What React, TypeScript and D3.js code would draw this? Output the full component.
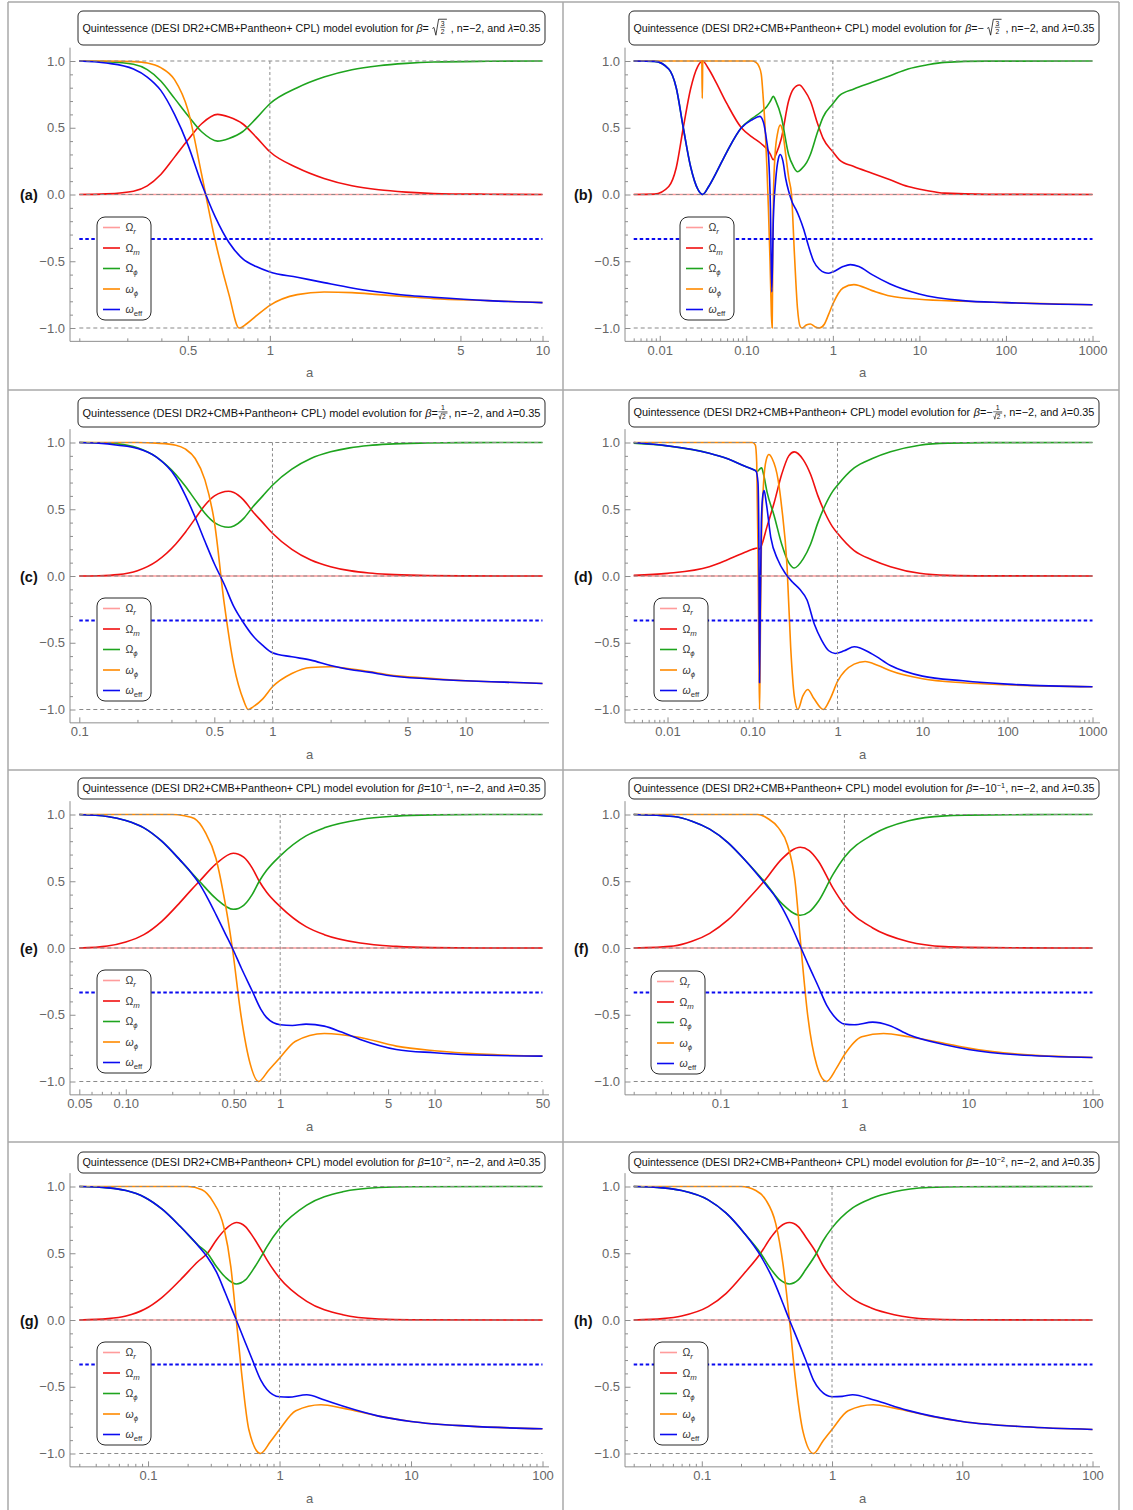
import React, { useEffect, useRef } from 'react';
import * as d3 from 'd3';

type Pt = [number, number];

// values: [a, value]

// (a) beta = sqrt(3/2)
const omR_a: Pt[] = [[0.2, 0], [10, 0]];
const omM_a: Pt[] = [[0.2, 0], [0.251, 0.005], [0.316, 0.025], [0.355, 0.065], [0.398, 0.15], [0.447, 0.28], [0.501, 0.41], [0.562, 0.53], [0.643, 0.6], [0.708, 0.58], [0.794, 0.53], [0.891, 0.43], [1, 0.32], [1.26, 0.2], [1.58, 0.12], [2, 0.065], [2.51, 0.035], [3.16, 0.018], [3.98, 0.008], [6.31, 0.002], [10, 0]];
const omPhi_a: Pt[] = [[0.2, 1], [0.251, 0.995], [0.316, 0.975], [0.355, 0.935], [0.398, 0.85], [0.447, 0.72], [0.501, 0.59], [0.562, 0.47], [0.643, 0.4], [0.708, 0.42], [0.794, 0.47], [0.891, 0.57], [1, 0.68], [1.26, 0.8], [1.58, 0.88], [2, 0.935], [2.51, 0.965], [3.16, 0.982], [3.98, 0.992], [6.31, 0.998], [10, 1]];
const wPhi_a: Pt[] = [[0.2, 1], [0.251, 1], [0.316, 0.995], [0.355, 0.985], [0.398, 0.95], [0.447, 0.86], [0.501, 0.63], [0.562, 0.15], [0.631, -0.35], [0.708, -0.75], [0.771, -1], [0.82, -0.97], [0.891, -0.91], [1, -0.83], [1.26, -0.75], [1.58, -0.73], [2, -0.735], [2.51, -0.75], [3.16, -0.765], [3.98, -0.78], [6.31, -0.795], [10, -0.81]];
const wEff_a: Pt[] = [[0.2, 1], [0.251, 0.985], [0.316, 0.94], [0.355, 0.88], [0.398, 0.78], [0.447, 0.6], [0.501, 0.37], [0.562, 0.08], [0.631, -0.17], [0.708, -0.36], [0.794, -0.48], [0.891, -0.54], [1, -0.58], [1.26, -0.62], [1.58, -0.66], [2, -0.7], [2.51, -0.73], [3.16, -0.755], [3.98, -0.77], [6.31, -0.795], [10, -0.81]];

// (b) beta = -sqrt(3/2)
const omR_b: Pt[] = [[0.005, 0], [1000, 0]];
const omM_b: Pt[] = [[0.005, 0], [0.0087, 0.003], [0.0127, 0.06], [0.0155, 0.2], [0.0187, 0.5], [0.0227, 0.79], [0.0275, 0.96], [0.0313, 1], [0.0368, 0.94], [0.0447, 0.84], [0.0597, 0.68], [0.0877, 0.5], [0.117, 0.43], [0.149, 0.38], [0.173, 0.34], [0.19, 0.3], [0.205, 0.26], [0.22, 0.3], [0.254, 0.42], [0.308, 0.7], [0.35, 0.79], [0.411, 0.82], [0.47, 0.78], [0.55, 0.7], [0.667, 0.53], [0.771, 0.42], [1, 0.32], [1.19, 0.26], [1.75, 0.21], [2.84, 0.16], [4.59, 0.11], [7.4, 0.06], [12.1, 0.03], [19.5, 0.01], [60, 0.001], [1000, 0]];
const omPhi_b: Pt[] = [[0.005, 1], [0.0087, 0.997], [0.0127, 0.94], [0.0155, 0.8], [0.0187, 0.5], [0.0227, 0.21], [0.0275, 0.04], [0.0313, 0], [0.0368, 0.06], [0.0447, 0.16], [0.0597, 0.32], [0.0877, 0.5], [0.117, 0.57], [0.149, 0.62], [0.173, 0.66], [0.19, 0.7], [0.205, 0.735], [0.22, 0.7], [0.254, 0.58], [0.308, 0.3], [0.35, 0.21], [0.392, 0.17], [0.432, 0.19], [0.499, 0.24], [0.55, 0.3], [0.667, 0.47], [0.771, 0.58], [1, 0.68], [1.19, 0.74], [1.75, 0.79], [2.84, 0.84], [4.59, 0.89], [7.4, 0.94], [12.1, 0.97], [19.5, 0.99], [60, 0.999], [1000, 1]];
const wPhi_b: Pt[] = [[0.005, 1], [0.0306, 1], [0.031, 0.72], [0.0314, 1], [0.117, 1], [0.129, 0.99], [0.14, 0.96], [0.149, 0.9], [0.157, 0.72], [0.165, 0.5], [0.173, 0.2], [0.18, -0.1], [0.188, -0.5], [0.195, -0.9], [0.199, -1], [0.202, -0.5], [0.206, 0], [0.215, 0.3], [0.23, 0.46], [0.247, 0.52], [0.262, 0.48], [0.285, 0.3], [0.31, 0.12], [0.333, 0], [0.36, -0.45], [0.39, -0.85], [0.42, -0.99], [0.44, -1], [0.5, -0.975], [0.55, -0.97], [0.62, -0.99], [0.7, -1], [0.8, -0.97], [0.891, -0.9], [1, -0.82], [1.31, -0.7], [1.75, -0.675], [2.84, -0.72], [4.59, -0.76], [9.95, -0.785], [31.7, -0.8], [100, -0.81], [1000, -0.826]];
const wEff_b: Pt[] = [[0.005, 1], [0.0087, 0.997], [0.0127, 0.94], [0.0155, 0.8], [0.0187, 0.5], [0.0227, 0.21], [0.0275, 0.04], [0.0313, 0], [0.0368, 0.06], [0.0447, 0.16], [0.0597, 0.32], [0.0877, 0.5], [0.117, 0.56], [0.143, 0.585], [0.158, 0.54], [0.172, 0.4], [0.181, 0.28], [0.19, -0.1], [0.197, -0.73], [0.205, -0.2], [0.218, 0.1], [0.235, 0.27], [0.247, 0.3], [0.265, 0.25], [0.285, 0.12], [0.31, 0.02], [0.34, -0.06], [0.373, -0.11], [0.41, -0.17], [0.46, -0.26], [0.52, -0.38], [0.6, -0.5], [0.7, -0.56], [0.8, -0.585], [0.89, -0.59], [1, -0.58], [1.31, -0.54], [1.59, -0.525], [2, -0.54], [2.84, -0.6], [4.59, -0.67], [9.95, -0.745], [31.7, -0.795], [100, -0.81], [1000, -0.826]];

// (c) beta = 1/sqrt(2)
const omR_c: Pt[] = [[0.1, 0], [25, 0]];
const omM_c: Pt[] = [[0.1, 0], [0.126, 0.002], [0.158, 0.01], [0.2, 0.04], [0.251, 0.11], [0.316, 0.24], [0.355, 0.33], [0.398, 0.43], [0.447, 0.53], [0.501, 0.6], [0.592, 0.635], [0.631, 0.625], [0.708, 0.57], [0.794, 0.48], [0.891, 0.4], [1, 0.32], [1.26, 0.2], [1.58, 0.12], [2, 0.07], [2.51, 0.04], [3.16, 0.022], [3.98, 0.012], [6.31, 0.004], [10, 0.001], [15.8, 0], [25, 0]];
const omPhi_c: Pt[] = [[0.1, 1], [0.126, 0.998], [0.158, 0.99], [0.2, 0.96], [0.251, 0.89], [0.316, 0.76], [0.355, 0.67], [0.398, 0.57], [0.447, 0.47], [0.501, 0.4], [0.592, 0.365], [0.631, 0.375], [0.708, 0.43], [0.794, 0.52], [0.891, 0.6], [1, 0.68], [1.26, 0.8], [1.58, 0.88], [2, 0.93], [2.51, 0.96], [3.16, 0.978], [3.98, 0.988], [6.31, 0.996], [10, 0.999], [15.8, 1], [25, 1]];
const wPhi_c: Pt[] = [[0.1, 1], [0.2, 1], [0.251, 0.995], [0.316, 0.98], [0.355, 0.95], [0.398, 0.88], [0.447, 0.72], [0.501, 0.4], [0.562, -0.2], [0.631, -0.67], [0.708, -0.93], [0.75, -1], [0.794, -0.98], [0.891, -0.92], [1, -0.83], [1.26, -0.73], [1.58, -0.685], [2, -0.68], [2.51, -0.695], [3.16, -0.715], [3.98, -0.74], [6.31, -0.765], [10, -0.785], [15.8, -0.795], [25, -0.805]];
const wEff_c: Pt[] = [[0.1, 1], [0.126, 0.995], [0.158, 0.98], [0.2, 0.955], [0.251, 0.89], [0.316, 0.74], [0.355, 0.6], [0.398, 0.44], [0.447, 0.26], [0.501, 0.09], [0.562, -0.06], [0.631, -0.23], [0.708, -0.35], [0.794, -0.45], [0.891, -0.52], [1, -0.575], [1.26, -0.605], [1.58, -0.63], [2, -0.67], [2.51, -0.7], [3.16, -0.72], [3.98, -0.745], [6.31, -0.77], [10, -0.785], [15.8, -0.795], [25, -0.805]];

// (d) beta = -1/sqrt(2)
const omR_d: Pt[] = [[0.004, 0], [1000, 0]];
const omM_d: Pt[] = [[0.004, 0.005], [0.01, 0.02], [0.031, 0.07], [0.05, 0.12], [0.083, 0.18], [0.1, 0.2], [0.115, 0.21], [0.121, 0.2], [0.126, 0.22], [0.148, 0.37], [0.18, 0.55], [0.22, 0.76], [0.267, 0.9], [0.31, 0.93], [0.396, 0.87], [0.483, 0.76], [0.588, 0.6], [0.716, 0.47], [0.87, 0.37], [1, 0.32], [1.57, 0.19], [2.57, 0.12], [4.2, 0.07], [9.25, 0.02], [20, 0.005], [60, 0.001], [1000, 0]];
const omPhi_d: Pt[] = [[0.004, 0.995], [0.01, 0.975], [0.031, 0.92], [0.05, 0.88], [0.083, 0.82], [0.1, 0.8], [0.115, 0.785], [0.121, 0.8], [0.128, 0.81], [0.135, 0.76], [0.148, 0.63], [0.18, 0.45], [0.22, 0.24], [0.267, 0.1], [0.31, 0.06], [0.396, 0.13], [0.483, 0.24], [0.588, 0.4], [0.716, 0.53], [0.87, 0.63], [1, 0.68], [1.57, 0.81], [2.57, 0.88], [4.2, 0.93], [9.25, 0.98], [20, 0.995], [60, 0.999], [1000, 1]];
const wPhi_d: Pt[] = [[0.004, 1], [0.1, 1], [0.108, 0.98], [0.112, 0.85], [0.116, 0.2], [0.119, -0.6], [0.121, -1], [0.123, -0.6], [0.127, 0.2], [0.135, 0.7], [0.145, 0.87], [0.156, 0.91], [0.17, 0.88], [0.2, 0.72], [0.22, 0.52], [0.255, 0.07], [0.281, -0.53], [0.31, -0.9], [0.342, -1], [0.39, -0.9], [0.446, -0.85], [0.53, -0.92], [0.68, -1], [0.82, -0.92], [1, -0.79], [1.57, -0.66], [2.11, -0.64], [3, -0.67], [4.2, -0.71], [10, -0.77], [30, -0.8], [100, -0.815], [1000, -0.83]];
const wEff_d: Pt[] = [[0.004, 1], [0.01, 0.975], [0.031, 0.92], [0.05, 0.88], [0.083, 0.82], [0.1, 0.8], [0.11, 0.785], [0.116, 0.7], [0.119, 0.2], [0.121, -0.8], [0.123, -0.3], [0.127, 0.4], [0.132, 0.6], [0.137, 0.64], [0.145, 0.55], [0.164, 0.29], [0.199, 0.12], [0.243, 0.02], [0.295, -0.045], [0.36, -0.1], [0.438, -0.18], [0.533, -0.36], [0.649, -0.48], [0.79, -0.56], [0.94, -0.58], [1.2, -0.56], [1.57, -0.53], [2.57, -0.585], [4.2, -0.67], [10, -0.75], [30, -0.785], [100, -0.81], [1000, -0.83]];

// (e) beta = 10^-1
const omR_e: Pt[] = [[0.05, 0], [50, 0]];
const omM_e: Pt[] = [[0.05, 0], [0.076, 0.015], [0.1, 0.045], [0.131, 0.1], [0.171, 0.2], [0.224, 0.34], [0.263, 0.43], [0.3, 0.5], [0.384, 0.63], [0.497, 0.71], [0.58, 0.68], [0.658, 0.6], [0.732, 0.5], [0.815, 0.42], [1, 0.31], [1.47, 0.16], [1.93, 0.1], [3.3, 0.037], [5.65, 0.012], [9.7, 0.003], [20, 0.0005], [50, 0]];
const omPhi_e: Pt[] = [[0.05, 1], [0.076, 0.985], [0.1, 0.955], [0.131, 0.9], [0.171, 0.8], [0.224, 0.66], [0.263, 0.57], [0.3, 0.5], [0.384, 0.37], [0.497, 0.29], [0.58, 0.32], [0.658, 0.4], [0.732, 0.5], [0.815, 0.58], [1, 0.69], [1.47, 0.84], [1.93, 0.9], [3.3, 0.963], [5.65, 0.988], [9.7, 0.997], [20, 1], [50, 1]];
const wPhi_e: Pt[] = [[0.05, 1], [0.2, 1], [0.24, 0.99], [0.278, 0.97], [0.326, 0.87], [0.384, 0.67], [0.427, 0.42], [0.49, 0], [0.56, -0.52], [0.64, -0.87], [0.724, -1], [0.837, -0.92], [1, -0.82], [1.25, -0.7], [1.93, -0.64], [3.3, -0.67], [5.65, -0.735], [10, -0.77], [20, -0.795], [50, -0.81]];
const wEff_e: Pt[] = [[0.05, 1], [0.076, 0.985], [0.1, 0.955], [0.131, 0.9], [0.171, 0.8], [0.224, 0.66], [0.263, 0.57], [0.3, 0.48], [0.34, 0.37], [0.384, 0.25], [0.44, 0.11], [0.49, 0], [0.56, -0.15], [0.658, -0.32], [0.75, -0.46], [0.815, -0.52], [1, -0.575], [1.2, -0.58], [1.47, -0.57], [1.93, -0.585], [2.5, -0.63], [3.3, -0.685], [5.65, -0.76], [10, -0.785], [16.6, -0.8], [50, -0.81]];

// (f) beta = -10^-1
const omR_f: Pt[] = [[0.02, 0], [100, 0]];
const omM_f: Pt[] = [[0.02, 0], [0.042, 0.015], [0.059, 0.05], [0.082, 0.11], [0.115, 0.21], [0.161, 0.35], [0.225, 0.5], [0.315, 0.67], [0.441, 0.755], [0.52, 0.73], [0.617, 0.65], [0.807, 0.45], [1, 0.32], [1.69, 0.15], [3.3, 0.047], [6.46, 0.01], [10, 0.005], [30, 0.001], [100, 0]];
const omPhi_f: Pt[] = [[0.02, 1], [0.042, 0.985], [0.059, 0.95], [0.082, 0.89], [0.115, 0.79], [0.161, 0.65], [0.225, 0.5], [0.315, 0.33], [0.441, 0.245], [0.52, 0.27], [0.617, 0.35], [0.807, 0.55], [1, 0.68], [1.69, 0.85], [3.3, 0.953], [6.46, 0.99], [10, 0.995], [30, 0.999], [100, 1]];
const wPhi_f: Pt[] = [[0.02, 1], [0.2, 1], [0.241, 0.97], [0.294, 0.9], [0.348, 0.77], [0.4, 0.5], [0.447, 0], [0.505, -0.5], [0.597, -0.875], [0.715, -1], [0.863, -0.9], [1, -0.8], [1.38, -0.665], [2.07, -0.64], [3.3, -0.665], [6.46, -0.715], [10, -0.75], [24.8, -0.795], [100, -0.82]];
const wEff_f: Pt[] = [[0.02, 1], [0.042, 0.985], [0.059, 0.95], [0.082, 0.89], [0.115, 0.79], [0.161, 0.65], [0.225, 0.49], [0.27, 0.4], [0.315, 0.3], [0.38, 0.15], [0.447, 0], [0.52, -0.14], [0.617, -0.29], [0.72, -0.43], [0.807, -0.5], [1, -0.57], [1.2, -0.575], [1.69, -0.555], [2.3, -0.58], [3.3, -0.65], [6.46, -0.725], [10, -0.76], [24.8, -0.8], [100, -0.82]];

// (g) beta = 10^-2
const omR_g: Pt[] = [[0.03, 0], [100, 0]];
const omM_g: Pt[] = [[0.03, 0], [0.0497, 0.01], [0.068, 0.03], [0.094, 0.08], [0.128, 0.17], [0.176, 0.3], [0.241, 0.44], [0.283, 0.5], [0.331, 0.6], [0.388, 0.68], [0.469, 0.73], [0.55, 0.7], [0.622, 0.63], [0.75, 0.5], [0.802, 0.45], [1, 0.315], [1.61, 0.14], [3.02, 0.04], [5.68, 0.008], [10, 0.002], [100, 0]];
const omPhi_g: Pt[] = [[0.03, 1], [0.0497, 0.99], [0.068, 0.97], [0.094, 0.92], [0.128, 0.83], [0.176, 0.7], [0.241, 0.56], [0.283, 0.5], [0.331, 0.4], [0.388, 0.32], [0.469, 0.27], [0.55, 0.3], [0.622, 0.37], [0.75, 0.5], [0.802, 0.55], [1, 0.685], [1.61, 0.86], [3.02, 0.96], [5.68, 0.992], [10, 0.998], [100, 1]];
const wPhi_g: Pt[] = [[0.03, 1], [0.2, 1], [0.257, 0.975], [0.31, 0.89], [0.376, 0.7], [0.426, 0.4], [0.469, 0], [0.515, -0.4], [0.584, -0.82], [0.716, -1], [0.854, -0.91], [1, -0.82], [1.33, -0.68], [2.07, -0.635], [3.02, -0.66], [5.68, -0.72], [10, -0.76], [27.6, -0.795], [100, -0.815]];
const wEff_g: Pt[] = [[0.03, 1], [0.0497, 0.99], [0.068, 0.97], [0.094, 0.92], [0.128, 0.83], [0.176, 0.7], [0.241, 0.555], [0.283, 0.47], [0.331, 0.36], [0.388, 0.2], [0.469, 0], [0.55, -0.17], [0.622, -0.3], [0.72, -0.45], [0.802, -0.52], [1, -0.575], [1.17, -0.578], [1.61, -0.56], [2.2, -0.6], [3.02, -0.645], [5.68, -0.72], [10, -0.76], [27.6, -0.795], [100, -0.815]];

// (h) beta = -10^-2
const omR_h: Pt[] = [[0.03, 0], [100, 0]];
const omM_h: Pt[] = [[0.03, 0], [0.05, 0.01], [0.07, 0.03], [0.112, 0.1], [0.154, 0.2], [0.212, 0.35], [0.283, 0.5], [0.34, 0.62], [0.4, 0.7], [0.471, 0.73], [0.55, 0.7], [0.63, 0.62], [0.76, 0.5], [0.85, 0.41], [1, 0.31], [1.44, 0.16], [2, 0.09], [3, 0.04], [5.5, 0.008], [10, 0.002], [100, 0]];
const omPhi_h: Pt[] = [[0.03, 1], [0.05, 0.99], [0.07, 0.97], [0.112, 0.9], [0.154, 0.8], [0.212, 0.65], [0.283, 0.5], [0.34, 0.38], [0.4, 0.3], [0.471, 0.27], [0.55, 0.3], [0.63, 0.38], [0.76, 0.5], [0.85, 0.59], [1, 0.69], [1.44, 0.84], [2, 0.91], [3, 0.96], [5.5, 0.992], [10, 0.998], [100, 1]];
const wPhi_h: Pt[] = [[0.03, 1], [0.2, 1], [0.26, 0.97], [0.31, 0.9], [0.37, 0.72], [0.42, 0.42], [0.471, 0], [0.52, -0.42], [0.6, -0.84], [0.72, -1], [0.86, -0.9], [1, -0.82], [1.33, -0.68], [2.07, -0.635], [3.02, -0.66], [5.68, -0.72], [10, -0.76], [30, -0.8], [100, -0.82]];
const wEff_h: Pt[] = [[0.03, 1], [0.05, 0.99], [0.07, 0.97], [0.112, 0.9], [0.154, 0.8], [0.212, 0.65], [0.283, 0.48], [0.354, 0.3], [0.41, 0.15], [0.471, 0], [0.55, -0.16], [0.628, -0.3], [0.72, -0.45], [0.81, -0.525], [1, -0.575], [1.2, -0.572], [1.44, -0.56], [2.1, -0.6], [3.74, -0.675], [10, -0.76], [30, -0.8], [100, -0.82]];

const panelLetters = ['a', 'b', 'c', 'd', 'e', 'f', 'g', 'h'];
const betaForms = ['sqrt', '-sqrt', 'inv', '-inv', 'pow1', '-pow1', 'pow2', '-pow2'];
const xDomains: [number, number][] = [[0.2, 10], [0.005, 1000], [0.1, 25], [0.004, 1000], [0.05, 50], [0.02, 100], [0.03, 100], [0.03, 100]];
const xMajor: number[][] = [
  [0.5, 1, 5, 10],
  [0.01, 0.1, 1, 10, 100, 1000],
  [0.1, 0.5, 1, 5, 10],
  [0.01, 0.1, 1, 10, 100, 1000],
  [0.05, 0.1, 0.5, 1, 5, 10, 50],
  [0.1, 1, 10, 100],
  [0.1, 1, 10, 100],
  [0.1, 1, 10, 100],
];
const xLabels: string[][] = [
  ['0.5', '1', '5', '10'],
  ['0.01', '0.10', '1', '10', '100', '1000'],
  ['0.1', '0.5', '1', '5', '10'],
  ['0.01', '0.10', '1', '10', '100', '1000'],
  ['0.05', '0.10', '0.50', '1', '5', '10', '50'],
  ['0.1', '1', '10', '100'],
  ['0.1', '1', '10', '100'],
  ['0.1', '1', '10', '100'],
];
const yMajor = [-1, -0.5, 0, 0.5, 1];
const refLevels = [1, 0, -1];
const accelLine = -1 / 3;
const todayA = 1;

const seriesByPanel: Pt[][][] = [
  [omR_a, omM_a, omPhi_a, wPhi_a, wEff_a],
  [omR_b, omM_b, omPhi_b, wPhi_b, wEff_b],
  [omR_c, omM_c, omPhi_c, wPhi_c, wEff_c],
  [omR_d, omM_d, omPhi_d, wPhi_d, wEff_d],
  [omR_e, omM_e, omPhi_e, wPhi_e, wEff_e],
  [omR_f, omM_f, omPhi_f, wPhi_f, wEff_f],
  [omR_g, omM_g, omPhi_g, wPhi_g, wEff_g],
  [omR_h, omM_h, omPhi_h, wPhi_h, wEff_h],
];
const legendItems = [
  { base: 'Ω', sub: 'r', baseIt: false, subIt: true },
  { base: 'Ω', sub: 'm', baseIt: false, subIt: true },
  { base: 'Ω', sub: 'ϕ', baseIt: false, subIt: true },
  { base: 'ω', sub: 'ϕ', baseIt: true, subIt: true },
  { base: 'ω', sub: 'eff', baseIt: true, subIt: false },
];
const colors = ['#ff9c9c', '#f01010', '#1ea41e', '#ff8a00', '#0a0af0'];

// layout
const W = 1133, H = 1510;
const FONT = "'Liberation Sans', Arial, sans-serif";
const UNIT = 133.5;
const rowZero = [194.5, 576, 948, 1320];
const titleRows = [[11, 45], [398, 427], [778, 799], [1152, 1173]];
const titleCols = [[78, 545], [629, 1099]];
const axisXs = [70, 625];
const dataLs = [79.3, 633.7];
const dataRs = [542.5, 1092.5];
const axisRs = [549, 1100];
const legendXY = [[97, 217], [680, 217], [97, 598], [654, 598], [97, 970], [651, 971], [97, 1342], [654, 1342]];
const axisColor = '#8e8e8e';
const labelColor = '#666';

const minorLogTicks = (dom: [number, number], major: number[]) => {
  const out: number[] = [];
  for (let k = Math.floor(Math.log10(dom[0])); k <= Math.ceil(Math.log10(dom[1])); k++) {
    for (let m = 1; m <= 9; m++) {
      const v = +(m * Math.pow(10, k)).toPrecision(6);
      if (v < dom[0] * 0.999 || v > dom[1] * 1.001) continue;
      if (major.some(t => Math.abs(t - v) / v < 1e-6)) continue;
      out.push(v);
    }
  }
  return out;
};

function drawTitle(parent: any, bx: number, by: number, bw: number, bh: number, form: string) {
  parent.append('rect').attr('x', bx).attr('y', by).attr('width', bw).attr('height', bh)
    .attr('rx', 5).attr('fill', '#fff').attr('stroke', '#111').attr('stroke-width', 0.9);
  const t = parent.append('g').attr('font-family', FONT).attr('fill', '#111');
  const fs = 11;
  let cx = 0;
  const txt = (s: string, italic = false, size = fs, dy = 0) => {
    const el = t.append('text').attr('x', cx).attr('y', dy).attr('font-size', size)
      .attr('xml:space', 'preserve').style('white-space', 'pre').text(s);
    if (italic) el.attr('font-style', 'italic');
    cx += (el.node() as SVGTextElement).getComputedTextLength();
  };
  const sqrtFrac = (num: string, den: string) => {
    const x0 = cx + 0.5;
    const fw = 6;
    t.append('path')
      .attr('d', `M${x0},-3.5 L${x0 + 1.6},-4.6 L${x0 + 3.6},3.4 L${x0 + 6.4},-13 L${x0 + 6.4 + fw + 2.5},-13`)
      .attr('fill', 'none').attr('stroke', '#111').attr('stroke-width', 0.8);
    const mid = x0 + 6.4 + 1.2 + fw / 2;
    t.append('text').attr('x', mid).attr('y', -6.3).attr('text-anchor', 'middle').attr('font-size', 7).text(num);
    t.append('line').attr('x1', mid - fw / 2 + 0.5).attr('x2', mid + fw / 2 - 0.5).attr('y1', -4.7).attr('y2', -4.7)
      .attr('stroke', '#111').attr('stroke-width', 0.6);
    t.append('text').attr('x', mid).attr('y', 2.2).attr('text-anchor', 'middle').attr('font-size', 7).text(den);
    cx = x0 + 6.4 + fw + 3.5;
  };
  const fracSqrt = (num: string, den: string) => {
    const x0 = cx + 0.5;
    const fw = 9;
    const mid = x0 + fw / 2;
    t.append('text').attr('x', mid).attr('y', -6.3).attr('text-anchor', 'middle').attr('font-size', 7).text(num);
    t.append('line').attr('x1', x0).attr('x2', x0 + fw).attr('y1', -4.7).attr('y2', -4.7)
      .attr('stroke', '#111').attr('stroke-width', 0.6);
    t.append('path')
      .attr('d', `M${x0 + 0.6},-0.6 L${x0 + 1.6},2.8 L${x0 + 3},-3.4 L${x0 + fw},-3.4`)
      .attr('fill', 'none').attr('stroke', '#111').attr('stroke-width', 0.6);
    t.append('text').attr('x', x0 + 3.4).attr('y', 2.4).attr('font-size', 6.5).text(den);
    cx = x0 + fw + 1;
  };
  txt('Quintessence (DESI DR2+CMB+Pantheon+ CPL) model evolution for ');
  txt('β', true);
  const neg = form.startsWith('-');
  const kind = neg ? form.slice(1) : form;
  if (kind === 'sqrt') {
    txt(neg ? '=− ' : '= ');
    sqrtFrac('3', '2');
    txt(' , n=−2, and ');
  } else if (kind === 'inv') {
    txt(neg ? '=−' : '=');
    fracSqrt('1', '2');
    txt(', n=−2, and ');
  } else {
    txt(neg ? '=−10' : '=10');
    txt(kind === 'pow1' ? '−1' : '−2', false, 7.5, -4.5);
    txt(', n=−2, and ');
  }
  txt('λ', true);
  txt('=0.35');
  const target = bw - 9;
  const s = target / cx;
  t.attr('transform', `translate(${bx + (bw - cx * s) / 2},${by + bh / 2 + 4 * s}) scale(${s})`);
}

const App: React.FC = () => {
  const svgRef = useRef<SVGSVGElement>(null);

  useEffect(() => {
    if (!svgRef.current) return;
    const svg = d3.select(svgRef.current);
    svg.selectAll('*').remove();
    svg.append('rect').attr('width', W).attr('height', H).attr('fill', '#fff');

    // panel grid
    const grid = svg.append('g').attr('stroke', '#a8a8a8').attr('stroke-width', 1.5);
    [8, 563, 1119].forEach(gx => grid.append('line').attr('x1', gx).attr('x2', gx).attr('y1', 2).attr('y2', H));
    [2, 390, 770, 1142].forEach(gy => grid.append('line').attr('x1', 8).attr('x2', 1119).attr('y1', gy).attr('y2', gy));

    panelLetters.forEach((letter, i) => {
      const col = i % 2;
      const row = Math.floor(i / 2);
      const axisX = axisXs[col];
      const axisR = axisRs[col];
      const y0 = rowZero[row];
      const dom = xDomains[i];
      const x = d3.scaleLog().domain(dom).range([dataLs[col], dataRs[col]]);
      const y = d3.scaleLinear().domain([-1, 1]).range([y0 + UNIT, y0 - UNIT]);
      const g = svg.append('g');
      const yBottom = y(-1.1);

      // axes
      g.append('line').attr('x1', axisX).attr('x2', axisX).attr('y1', y(1.1)).attr('y2', yBottom)
        .attr('stroke', axisColor).attr('stroke-width', 1);
      g.append('line').attr('x1', axisX).attr('x2', axisR).attr('y1', yBottom).attr('y2', yBottom)
        .attr('stroke', axisColor).attr('stroke-width', 1);

      const styleAxis = (ag: any) => {
        ag.select('.domain').remove();
        ag.selectAll('line').attr('stroke', axisColor);
        ag.selectAll('text').attr('fill', labelColor).attr('font-size', 13).attr('font-family', FONT);
      };
      const xa = g.append('g').attr('transform', `translate(0,${yBottom})`);
      xa.call(d3.axisBottom(x).tickValues(xMajor[i]).tickSize(-5.5).tickPadding(4)
        .tickFormat((_d: any, k: number) => xLabels[i][k]) as any);
      styleAxis(xa);
      const xm = g.append('g').attr('transform', `translate(0,${yBottom})`);
      xm.call(d3.axisBottom(x).tickValues(minorLogTicks(dom, xMajor[i])).tickSize(-3).tickFormat(() => '') as any);
      styleAxis(xm);

      const ya = g.append('g').attr('transform', `translate(${axisX},0)`);
      ya.call(d3.axisLeft(y).tickValues(yMajor).tickSize(-5.5).tickPadding(5).tickFormat(d3.format('.1f') as any) as any);
      styleAxis(ya);
      const yMinor = d3.range(-10, 11).filter(k => k % 5 !== 0).map(k => k / 10);
      const ym = g.append('g').attr('transform', `translate(${axisX},0)`);
      ym.call(d3.axisLeft(y).tickValues(yMinor).tickSize(-3).tickFormat(() => '') as any);
      styleAxis(ym);

      // curves
      const line = d3.line<Pt>().x(d => x(d[0])).y(d => y(d[1])).curve(d3.curveMonotoneX);
      seriesByPanel[i].forEach((s, k) => {
        g.append('path').attr('d', line(s) || '').attr('fill', 'none')
          .attr('stroke', colors[k]).attr('stroke-width', 1.6).attr('stroke-linejoin', 'round');
      });

      // reference lines
      const ref = g.append('g').attr('stroke', '#8a8a8a').attr('stroke-width', 1.2).attr('stroke-dasharray', '4,3');
      refLevels.forEach(v => ref.append('line').attr('x1', x(dom[0])).attr('x2', x(dom[1])).attr('y1', y(v)).attr('y2', y(v)));
      ref.append('line').attr('x1', x(todayA)).attr('x2', x(todayA)).attr('y1', y(1)).attr('y2', y(-1))
        .attr('stroke-width', 1).attr('stroke-dasharray', '3,2.5');
      g.append('line').attr('x1', x(dom[0])).attr('x2', x(dom[1])).attr('y1', y(accelLine)).attr('y2', y(accelLine))
        .attr('stroke', '#0a0af0').attr('stroke-width', 2).attr('stroke-dasharray', '3.5,2.5');

      // title
      const tc = titleCols[col];
      const tr = titleRows[row];
      drawTitle(g, tc[0], tr[0], tc[1] - tc[0], tr[1] - tr[0], betaForms[i]);

      // legend
      const [lx, ly] = legendXY[i];
      const lg = g.append('g').attr('transform', `translate(${lx},${ly})`).attr('font-family', FONT);
      lg.append('rect').attr('width', 54).attr('height', 103).attr('rx', 8).attr('fill', '#fff')
        .attr('stroke', '#111').attr('stroke-width', 0.9);
      legendItems.forEach((it, k) => {
        const yy = 10.5 + k * 20.5;
        lg.append('line').attr('x1', 6).attr('x2', 23).attr('y1', yy).attr('y2', yy)
          .attr('stroke', colors[k]).attr('stroke-width', 1.6);
        const tx = lg.append('text').attr('x', 28.5).attr('y', yy + 3.8).attr('font-size', 10.5).attr('fill', '#333');
        tx.append('tspan').attr('font-style', it.baseIt ? 'italic' : 'normal').text(it.base);
        tx.append('tspan').attr('dy', 2.8).attr('font-size', 7.8).attr('font-style', it.subIt ? 'italic' : 'normal').text(it.sub);
      });

      // panel letter
      g.append('text').attr('x', col ? 574 : 20).attr('y', y0 + 5.5).attr('font-family', FONT)
        .attr('font-weight', 'bold').attr('font-size', 14.5).attr('fill', '#111').text(`(${letter})`);

      // x label
      g.append('text').attr('x', (axisX + axisR) / 2).attr('y', yBottom + 36).attr('text-anchor', 'middle')
        .attr('font-family', FONT).attr('font-size', 13).attr('fill', labelColor).text('a');
    });
  }, []);

  return (
    <svg ref={svgRef} width={W} height={H} style={{ position: 'absolute', left: 0, top: 0 }} />
  );
};

export default App;
